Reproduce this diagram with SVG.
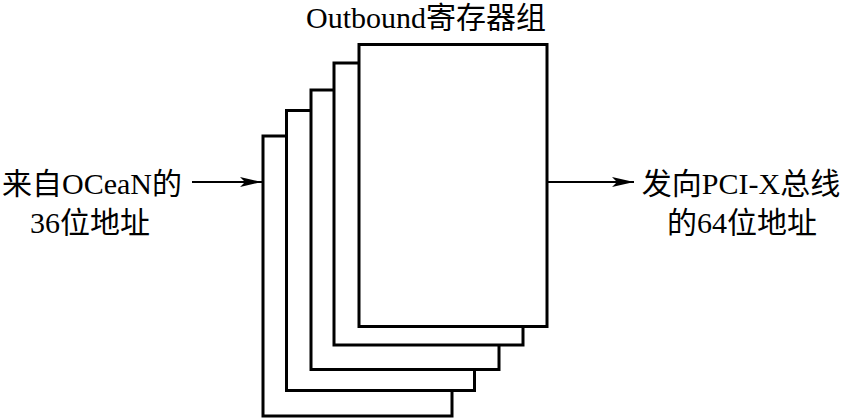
<svg xmlns="http://www.w3.org/2000/svg" width="844" height="418" viewBox="0 0 844 418">
<style>
.card{fill:#fff;stroke:#000;stroke-width:3}
.t{font-family:"Liberation Serif","Noto Sans CJK SC",serif;font-size:30px;fill:#000}
.c{stroke:#000;stroke-width:2;fill:none}
</style>
<defs>
<marker id="ah" markerWidth="22" markerHeight="10" refX="22" refY="5" orient="auto" markerUnits="userSpaceOnUse">
<path d="M0,0 L22,5 L0,10 L5,5 Z" fill="#000"/>
</marker>
</defs>
<rect width="844" height="418" fill="#fff"/>
<g id="reg1"><rect class="card" x="263" y="136" width="189" height="280"/></g>
<g id="reg2"><rect class="card" x="286.5" y="110.5" width="188" height="280"/></g>
<g id="reg3"><rect class="card" x="311" y="90" width="188" height="279.5"/></g>
<g id="reg4"><rect class="card" x="334" y="63" width="189" height="282"/></g>
<g id="reg5"><rect class="card" x="359" y="44.5" width="188" height="282"/></g>
<g id="title"><text class="t" x="426" y="28" text-anchor="middle">Outbound寄存器组</text></g>
<g id="src"><text class="t" text-anchor="middle"><tspan x="92" y="194">来自OCeaN的</tspan><tspan x="90" y="233">36位地址</tspan></text></g>
<g id="dst"><text class="t" text-anchor="middle"><tspan x="741" y="194">发向PCI-X总线</tspan><tspan x="742" y="233">的64位地址</tspan></text></g>
<g id="connectors">
<line class="c" x1="192" y1="182" x2="262" y2="182" marker-end="url(#ah)"/>
<line class="c" x1="548" y1="182" x2="634" y2="182" marker-end="url(#ah)"/>
</g>
</svg>
